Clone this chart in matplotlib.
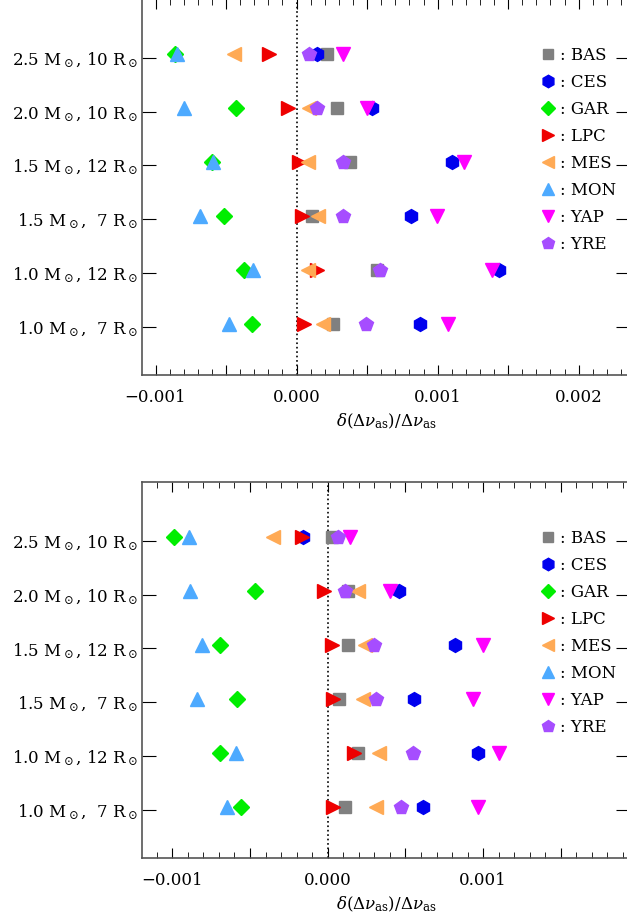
import numpy as np
import matplotlib
matplotlib.use('Agg')
from matplotlib import pyplot as plt
from matplotlib.ticker import MultipleLocator, FuncFormatter

plt.rcParams['font.family'] = ['DejaVu Serif']
plt.rcParams['mathtext.fontset'] = 'dejavuserif'

# models (bottom to top)
models = [r'1.0 M$_\odot$,  7 R$_\odot$', r'1.0 M$_\odot$, 12 R$_\odot$',
          r'1.5 M$_\odot$,  7 R$_\odot$', r'1.5 M$_\odot$, 12 R$_\odot$',
          r'2.0 M$_\odot$, 10 R$_\odot$', r'2.5 M$_\odot$, 10 R$_\odot$']

groups = ['BAS', 'CES', 'GAR', 'LPC', 'MES', 'MON', 'YAP', 'YRE']
markers = ['s', 'h', 'D', '>', '<', '^', 'v', 'p']
colors = ['#808080', '#0000ee', '#00ee00', '#ee0000', '#ffaa55', '#4daaff', '#ff00ff', '#a64dff']
sizes = [8, 10, 8, 10, 10, 10, 10, 10]

# top panel, values in units of 1e-3 (rows follow models, bottom to top)
top_vals = {
    'BAS': [0.261, 0.569, 0.108, 0.379, 0.289, 0.214],
    'CES': [0.876, 1.436, 0.810, 1.105, 0.533, 0.148],
    'GAR': [-0.313, -0.372, -0.514, -0.601, -0.431, -0.862],
    'LPC': [0.053, 0.148, 0.041, 0.020, -0.058, -0.193],
    'MES': [0.186, 0.084, 0.150, 0.084, 0.089, -0.443],
    'MON': [-0.477, -0.311, -0.684, -0.596, -0.798, -0.850],
    'YAP': [1.077, 1.387, 0.999, 1.188, 0.498, 0.332],
    'YRE': [0.493, 0.592, 0.328, 0.332, 0.148, 0.089],
}

# bottom panel
bot_vals = {
    'BAS': [0.108, 0.194, 0.071, 0.129, 0.129, 0.028],
    'CES': [0.613, 0.968, 0.555, 0.817, 0.456, -0.161],
    'GAR': [-0.559, -0.694, -0.581, -0.694, -0.466, -0.989],
    'LPC': [0.032, 0.172, 0.037, 0.028, -0.026, -0.168],
    'MES': [0.312, 0.329, 0.226, 0.241, 0.198, -0.350],
    'MON': [-0.649, -0.591, -0.839, -0.806, -0.886, -0.892],
    'YAP': [0.968, 1.103, 0.935, 1.000, 0.398, 0.144],
    'YRE': [0.469, 0.548, 0.308, 0.301, 0.108, 0.065],
}

xlims = [(-1.096e-3, 2.365e-3), (-1.195e-3, 1.946e-3)]
ypos = np.arange(1, len(models) + 1)


def xfmt(v, p):
    # labels only on whole multiples of 0.001
    if abs(round(v / 0.001) - v / 0.001) < 1e-6:
        return ('%.3f' % v).replace('-', '\u2212')
    return ''


fig = plt.figure(figsize=(6.27, 9.23), dpi=100)
ax1 = fig.add_axes([0.2265, 0.5937, 0.7785, 0.4075])
ax2 = fig.add_axes([0.2265, 0.0704, 0.7785, 0.4074])

for ax, vals, xl in [(ax1, top_vals, xlims[0]), (ax2, bot_vals, xlims[1])]:
    ax.axvline(0, color='black', ls=':', lw=1.2, zorder=1)
    for g, m, c, s in zip(groups, markers, colors, sizes):
        x = np.array(vals[g]) * 1e-3
        ax.plot(x, ypos + 0.06, ls='none', marker=m, color=c, ms=s,
                mec=c, label=': ' + g, zorder=3)
    ax.set_xlim(*xl)
    ax.set_ylim(0.11, 7.09)
    ax.set_yticks(ypos)
    ax.set_yticklabels(models, fontsize=12)
    ax.xaxis.set_major_locator(MultipleLocator(0.0005))
    ax.xaxis.set_minor_locator(MultipleLocator(0.0001))
    ax.xaxis.set_major_formatter(FuncFormatter(xfmt))
    ax.tick_params(axis='x', which='major', direction='in', length=7, top=True, labelsize=12, pad=10)
    ax.tick_params(axis='x', which='minor', direction='in', length=4, top=True)
    ax.tick_params(axis='y', which='major', direction='in', length=10, right=True, pad=3)
    for sp in ax.spines.values():
        sp.set_color('#555555')
        sp.set_linewidth(1.2)
    ax.set_xlabel(r'$\delta(\Delta\nu_{\rm as})/\Delta\nu_{\rm as}$', fontsize=12, labelpad=4)
    ax.legend(loc='upper right', bbox_to_anchor=(0.985, 0.89), frameon=False,
              fontsize=12, handletextpad=0.25, handlelength=1.0,
              labelspacing=0.6, borderaxespad=0.0, markerscale=0.9)

fig.savefig('out.png', dpi=100)
